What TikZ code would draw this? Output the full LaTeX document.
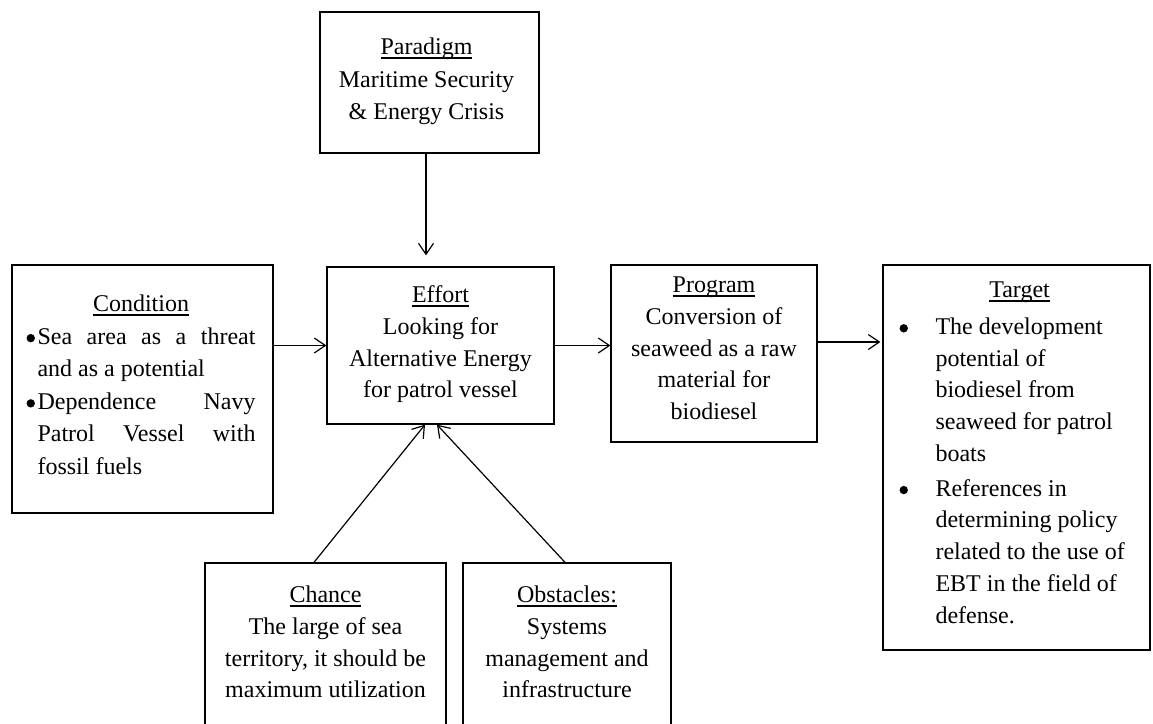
\documentclass[tikz,border=0pt]{standalone}
\usepackage{fontspec}
\setmainfont{Liberation Serif}
\usetikzlibrary{arrows.meta}
\newcommand\ulbox[1]{\sbox0{#1}\rlap{\rule[-4pt]{\wd0}{1.3pt}}\usebox0}
\newcommand\bdot{\tikz[baseline=0pt]\fill (0,6pt) circle (4.2pt);}
\begin{document}
\begin{tikzpicture}[x=1pt,y=-1pt,
  bx/.style={draw, line width=1.3pt, inner sep=0pt},
  tx/.style={inner sep=0pt, font=\fontsize{24}{31.75}\selectfont},
  arr/.style={-{Straight Barb[length=11pt,width=15pt]}, line width=1.2pt}]
\useasboundingbox (0,0) rectangle (1153,723);
\clip (0,0) rectangle (1153,723);
\fill[white] (0,0) rectangle (1153,723);

% boxes
\node[bx, minimum width=219pt, minimum height=141pt] (paradigm) at (429.5,82.5) {};
\node[bx, minimum width=261pt, minimum height=248pt] (condition) at (142.5,389) {};
\node[bx, minimum width=227pt, minimum height=157pt] (effort) at (440.5,345.5) {};
\node[bx, minimum width=206pt, minimum height=177pt] (program) at (714,353.5) {};
\node[bx, minimum width=267pt, minimum height=385pt] (target) at (1016.5,457.5) {};
\node[bx, minimum width=241pt, minimum height=164pt] (chance) at (325.5,645) {};
\node[bx, minimum width=208pt, minimum height=164pt] (obstacles) at (567,645) {};

% texts
\node[tx, align=center, anchor=north, font=\fontsize{24}{32.5}\selectfont] (paradigm-t) at ([xshift=-3pt,yshift=-26pt]paradigm.north)
  {\rule{0pt}{17pt}\ulbox{Paradigm}\\Maritime Security\\\& Energy Crisis};
\node[tx, align=center, anchor=north] (effort-t) at ([yshift=-19pt]effort.north)
  {\rule{0pt}{17pt}\ulbox{Effort}\\Looking for\\Alternative Energy\\for patrol vessel};
\node[tx, align=center, anchor=north] (program-t) at ([yshift=-11pt]program.north)
  {\rule{0pt}{17pt}\ulbox{Program}\\Conversion of\\seaweed as a raw\\material for\\biodiesel};
\node[tx, align=center, anchor=north] (chance-t) at ([yshift=-23pt]chance.north)
  {\rule{0pt}{17pt}\ulbox{Chance}\\The large of sea\\territory, it should be\\maximum utilization};
\node[tx, align=center, anchor=north] (obstacles-t) at ([yshift=-23pt]obstacles.north)
  {\rule{0pt}{17pt}\ulbox{Obstacles:}\\Systems\\management and\\infrastructure};
\node[tx, text width=229pt, align=flush left, anchor=north west, font=\fontsize{24}{32.6}\selectfont] (condition-t) at ([xshift=15pt,yshift=-30pt]condition.north west)
  {\noindent\rule{0pt}{17pt}\makebox[229pt]{\ulbox{Condition}}\\
   \makebox[11pt][l]{\bdot}\makebox[218pt][s]{Sea area as a threat}\\
   \hspace*{11pt}and as a potential\\
   \makebox[11pt][l]{\bdot}\makebox[218pt][s]{Dependence Navy}\\
   \hspace*{11pt}\makebox[218pt][s]{Patrol Vessel with}\\
   \hspace*{11pt}fossil fuels};
\node[tx, text width=240pt, align=flush left, anchor=north west] (target-t) at ([xshift=17pt,yshift=-16pt]target.north west)
  {\noindent\rule{0pt}{17pt}\makebox[240pt]{\ulbox{Target}}\\[5pt]
   \makebox[36pt][l]{\bdot}The development\\
   \hspace*{36pt}potential of\\
   \hspace*{36pt}biodiesel from\\
   \hspace*{36pt}seaweed for patrol\\
   \hspace*{36pt}boats\\[3pt]
   \makebox[36pt][l]{\bdot}References in\\
   \hspace*{36pt}determining policy\\
   \hspace*{36pt}related to the use of\\
   \hspace*{36pt}EBT in the field of\\
   \hspace*{36pt}defense.};

% connectors
\draw[arr] ([xshift=-3.5pt]paradigm.south) -- ([xshift=-14.5pt,yshift=11pt]effort.north);
\draw[arr] (condition.east |- effort.west) -- (effort.west);
\draw[arr] (effort.east) -- (effort.east -| program.west);
\draw[arr, shorten >=2pt] ([yshift=11.5pt]program.east) -- ([yshift=115.5pt]target.west);
\draw[arr] ([xshift=-11.5pt]chance.north) -- ([xshift=-15.5pt]effort.south);
\draw[arr] ([xshift=-2pt]obstacles.north) -- ([xshift=-3.5pt]effort.south);
\end{tikzpicture}
\end{document}
